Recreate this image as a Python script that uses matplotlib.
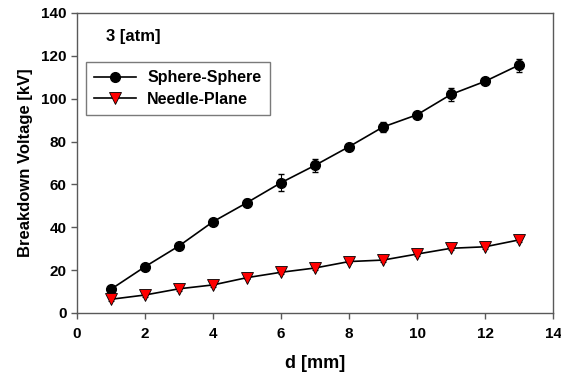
import matplotlib as mpl
from matplotlib import pyplot as plt
from matplotlib.lines import Line2D

mpl.rcParams['font.family'] = ['Liberation Sans', 'DejaVu Sans']
mpl.rcParams['font.weight'] = 'bold'

gap_mm = [1, 2, 3, 4, 5, 6, 7, 8, 9, 10, 11, 12, 13]
sphere_kv = [11.1, 21.6, 31.3, 42.6, 51.5, 60.8, 68.9, 77.6, 86.8, 92.5, 102.0, 108.1, 115.7]
sphere_err = [1.0, 1.0, 1.2, 1.5, 1.5, 4.0, 3.0, 1.0, 2.2, 1.0, 3.0, 1.0, 3.0]
needle_kv = [6.4, 8.4, 11.3, 13.1, 16.5, 19.0, 21.0, 24.0, 24.7, 27.5, 30.2, 30.9, 34.1]
needle_err = [0.8, 0.8, 0.8, 0.8, 0.8, 0.8, 0.8, 0.8, 0.8, 0.8, 0.8, 0.8, 0.8]

frame_color = (0.35, 0.35, 0.35)

fig = plt.figure(figsize=(5.61, 3.74), dpi=100)
ax = fig.add_axes([77 / 561, 1 - 313 / 374, 476 / 561, 300 / 374])

sphere_style = dict(color='black', marker='o', markersize=7, linewidth=1.2)
needle_style = dict(color='black', marker='v', markersize=8, markerfacecolor='red',
                    markeredgecolor='black', markeredgewidth=0.6, linewidth=1.2)

ax.errorbar(gap_mm, sphere_kv, yerr=sphere_err, capsize=2, elinewidth=0.8,
            zorder=3, **sphere_style)
ax.errorbar(gap_mm, needle_kv, yerr=needle_err, capsize=2, elinewidth=0.8,
            zorder=3, **needle_style)

ax.set_xlim(0, 14)
ax.set_ylim(0, 140)
ax.set_xticks(range(0, 15, 2))
ax.set_yticks(range(0, 141, 20))
ax.tick_params(direction='out', length=4, width=1, color=frame_color, labelsize=11)
ax.tick_params(axis='x', pad=6)
for sp in ax.spines.values():
    sp.set_color(frame_color)
    sp.set_linewidth(1)

ax.set_xlabel('d [mm]', fontsize=13, fontweight='bold', labelpad=10)
ax.set_ylabel('Breakdown Voltage [kV]', fontsize=12, fontweight='bold', labelpad=6)

ax.text(0.85, 129, '3 [atm]', fontsize=12, fontweight='bold', va='center', ha='left')

handles = [Line2D([], [], **sphere_style), Line2D([], [], **needle_style)]
leg = ax.legend(handles, ['Sphere-Sphere', 'Needle-Plane'],
                loc='upper left', bbox_to_anchor=(8.7 / 476, 1 - 48.7 / 300),
                fontsize=11.5, frameon=True, fancybox=False, borderpad=0.55,
                handlelength=2.6, labelspacing=0.38, borderaxespad=0,
                handletextpad=0.7)
leg.get_frame().set_edgecolor(frame_color)
leg.get_frame().set_linewidth(1)

fig.savefig('out.png', dpi=100)
